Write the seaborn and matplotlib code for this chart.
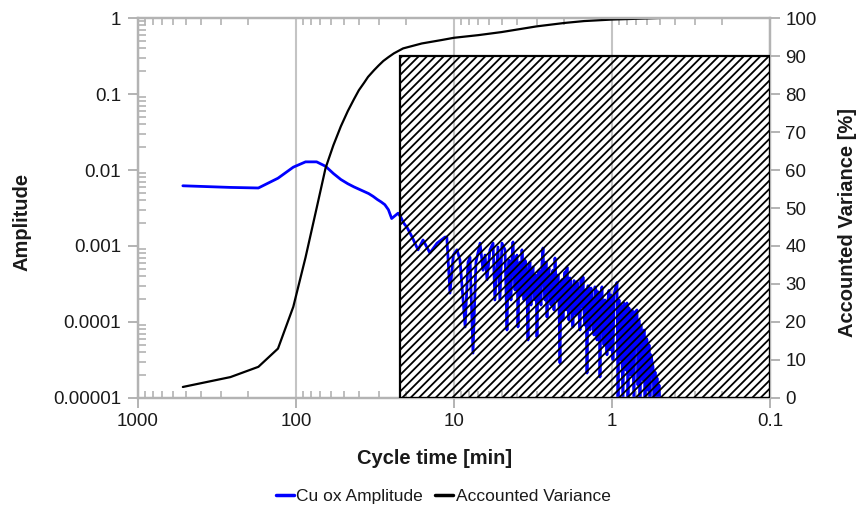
import numpy as np
import pandas as pd
import matplotlib
matplotlib.use('Agg')
import matplotlib.pyplot as plt
import seaborn as sns
from matplotlib.patches import Rectangle
from matplotlib.lines import Line2D
from matplotlib.ticker import LogLocator, NullFormatter

# ---- data ----
# Cu ox amplitude spectrum (cycle time in min, amplitude)
amp_time = [520, 260, 173, 130, 104, 87, 74, 65, 58, 52, 47, 43, 40, 37, 34.7, 32.5,
            30.6, 28.9, 27.4, 26, 24.8, 23.6, 22.6, 21.7, 20.8, 19.8, 18.4, 16.9, 15.7,
            14.2, 12.8, 11.4, 11.1, 10.6, 10.1, 9.57, 9.16, 8.5, 8.15, 7.92, 7.58, 7.26,
            6.84, 6.55, 6.36, 6.18, 5.92, 5.66, 5.51, 5.27, 5.12, 4.97,
            4.755, 4.686, 4.619, 4.552, 4.486, 4.421, 4.357, 4.295, 4.233, 4.171, 4.111,
            4.051, 3.993, 3.935, 3.878, 3.822, 3.767, 3.712, 3.659, 3.606, 3.554, 3.502,
            3.451, 3.401, 3.352, 3.304, 3.256, 3.209, 3.162, 3.116, 3.071, 3.027, 2.983,
            2.940, 2.897, 2.855, 2.814, 2.773, 2.733, 2.694, 2.655, 2.616, 2.578, 2.541,
            2.504, 2.468, 2.433, 2.398, 2.363, 2.329, 2.295, 2.262, 2.229, 2.197, 2.165,
            2.134, 2.105, 2.073, 2.042, 2.013, 1.984, 1.955, 1.927, 1.900, 1.872, 1.845,
            1.818, 1.792, 1.766, 1.740, 1.715, 1.690, 1.665, 1.641, 1.617, 1.594, 1.571,
            1.548, 1.526, 1.504, 1.482, 1.461, 1.439, 1.418, 1.398, 1.378, 1.358, 1.339,
            1.320, 1.300, 1.282, 1.263, 1.244, 1.227, 1.209, 1.191, 1.174, 1.157, 1.140,
            1.124, 1.107, 1.092, 1.076, 1.060, 1.045, 1.030, 1.015, 1.000, 0.986, 0.971,
            0.957, 0.930, 0.916, 0.903, 0.890, 0.877, 0.852, 0.839, 0.815,
            0.804, 0.792, 0.781, 0.758, 0.747, 0.726, 0.715, 0.695, 0.685, 0.675, 0.665,
            0.656, 0.636, 0.627, 0.618, 0.609, 0.600, 0.592, 0.583, 0.575, 0.567, 0.550,
            0.542, 0.534, 0.527, 0.519, 0.512, 0.504, 0.497]
amp_values = [6.2e-3, 5.9e-3, 5.8e-3, 7.8e-3, 1.09e-2, 1.28e-2, 1.28e-2, 1.12e-2, 9.0e-3,
              7.5e-3, 6.6e-3, 6.0e-3, 5.6e-3, 5.2e-3, 4.9e-3, 4.5e-3, 4.1e-3, 3.8e-3,
              3.5e-3, 3.0e-3, 2.3e-3, 2.5e-3, 2.7e-3, 2.4e-3, 2.0e-3, 1.75e-3, 1.31e-3,
              8.9e-4, 1.2e-3, 8.1e-4, 1.09e-3, 1.31e-3, 1.31e-3, 2.4e-4, 7.6e-4, 8.9e-4,
              6.5e-4, 8.6e-5, 6.15e-4, 7.1e-4, 3.9e-5, 6.15e-4, 1.09e-3, 4.8e-4, 7.6e-4,
              3.6e-4, 8.9e-4, 1.09e-3, 1.95e-4, 9.7e-4, 1.95e-4, 1.09e-3,
              8.9e-4, 2.5e-4, 7.85e-5, 4.0e-4, 6.5e-4, 3.0e-4, 1.95e-4, 7.0e-4, 1.13e-3,
              5.0e-4, 2.64e-4, 6.0e-4, 7.6e-4, 8.6e-5, 5.0e-4, 6.15e-4, 2.27e-4, 8.9e-4,
              4.0e-4, 1.95e-4, 6.5e-4, 5.6e-4, 2.5e-4, 5.8e-5, 5.5e-4, 6.15e-4, 1.67e-4,
              4.5e-4, 5.3e-4, 2.5e-4, 1.95e-4, 4.15e-4, 6.35e-5, 3.8e-4, 4.8e-4, 2.2e-4,
              1.67e-4, 6.0e-4, 9.4e-4, 3.5e-4, 1.95e-4, 6.15e-4, 1.16e-4, 4.2e-4, 5.1e-4,
              2.4e-4, 1.67e-4, 4.0e-4, 4.8e-4, 1.44e-4, 6.95e-4, 3.0e-4, 1.95e-4, 4.15e-4,
              1.8e-4, 2.9e-5, 3.0e-4, 3.6e-4, 1.06e-4, 3.3e-4, 4.55e-4, 1.44e-4, 5.3e-4,
              2.0e-4, 1.06e-4, 3.8e-4, 3.1e-4, 1.5e-4, 8.6e-5, 3.5e-4, 3.3e-4, 1.24e-4,
              3.4e-4, 2.64e-4, 1.3e-4, 7.85e-5, 3.6e-4, 1.6e-4, 3.9e-4, 1.4e-4, 9.1e-5,
              2.64e-4, 2.13e-5, 3.0e-4, 2.27e-4, 7.85e-5, 2.8e-4, 1.95e-4, 1.1e-4, 6.75e-5,
              2.9e-4, 2.64e-4, 5.8e-5, 2.5e-4, 2.27e-4, 1.89e-5, 1.95e-4, 2.9e-4, 9.0e-5,
              5.0e-5, 1.95e-4, 1.0e-4, 3.7e-5, 1.95e-4, 2.6e-4, 4.3e-5, 2.27e-4, 1.2e-4,
              3.2e-5, 2.3e-4, 2.64e-4, 3.3e-4, 8e-6, 1.95e-4, 3.2e-5, 1.67e-4, 8e-6,
              1.78e-4, 2.33e-5, 1.78e-4, 8e-6, 1.53e-4, 2.0e-5, 1.44e-4, 8e-6, 1.35e-4,
              1.44e-4, 1.48e-5, 1.06e-4, 8e-6, 9.1e-5, 1.73e-5, 7.85e-5, 8e-6, 6.15e-5,
              5.8e-5, 1.27e-5, 5.0e-5, 8e-6, 3.7e-5, 2.56e-5, 8e-6, 2.2e-5, 8e-6, 1.83e-5,
              8e-6, 1.48e-5, 8e-6]

# cumulative accounted variance in %
var_time = [520, 260, 173, 130, 104, 87, 74, 65, 58, 52, 47, 43, 40, 37, 35, 32, 30, 28,
            26, 24, 21, 16, 12, 10, 7, 5, 3, 2, 1.5, 1, 0.7, 0.5]
var_values = [2.9, 5.5, 8.2, 13, 24, 37, 50, 60.5, 66.5, 71.5, 75.5, 78.6, 81, 83, 84.5,
              86.3, 87.5, 88.7, 89.7, 90.7, 92.0, 93.3, 94.2, 94.8, 95.5, 96.3, 97.8,
              98.7, 99.2, 99.6, 99.8, 100]

# hatched window (cycle time range, upper bound in %)
window_start = 22
window_end = 0.1
window_top = 90

x_ticks = [1000, 100, 10, 1, 0.1]
x_tick_labels = ['1000', '100', '10', '1', '0.1']
y_ticks = [1, 0.1, 0.01, 0.001, 0.0001, 0.00001]
y_tick_labels = ['1', '0.1', '0.01', '0.001', '0.0001', '0.00001']
y2_ticks = list(range(0, 101, 10))

# ---- style ----
sns.set_style('white')
plt.rcParams['font.family'] = ['Liberation Sans', 'DejaVu Sans']
plt.rcParams['hatch.linewidth'] = 1.3
grey = '#b3b3b3'
txt = '#1a1a1a'

fig = plt.figure(figsize=(8.64, 5.09), dpi=100)
ax = fig.add_axes([0.1597, 0.2181, 0.7315, 0.7465])
ax.set_xscale('log')
ax.set_yscale('log')
ax2 = ax.twinx()

amp_df = pd.DataFrame({'time': amp_time, 'amp': amp_values})
var_df = pd.DataFrame({'time': var_time, 'var': var_values})

sns.lineplot(data=amp_df, x='time', y='amp', ax=ax, color='#0000ff', lw=2.0,
             estimator=None, sort=False)
sns.lineplot(data=var_df, x='time', y='var', ax=ax2, color='black', lw=1.6,
             estimator=None, sort=False)

ax2.add_patch(Rectangle((window_start, 0), window_end - window_start, window_top,
                        facecolor='none', edgecolor='black', hatch='////', lw=1.6, zorder=5))

ax.set_xlim(1000, 0.1)
ax.set_ylim(1e-5, 1)
ax2.set_ylim(0, 100)

ax.set_xticks(x_ticks, x_tick_labels)
ax.set_yticks(y_ticks, y_tick_labels)
ax2.set_yticks(y2_ticks)
ax.xaxis.set_minor_locator(LogLocator(base=10, subs=np.arange(2, 10), numticks=20))
ax.yaxis.set_minor_locator(LogLocator(base=10, subs=np.arange(2, 10), numticks=20))
ax.xaxis.set_minor_formatter(NullFormatter())
ax.yaxis.set_minor_formatter(NullFormatter())

ax.xaxis.grid(True, which='major', color='#c4c4c4', lw=1.5)
ax.yaxis.grid(False)
ax.set_axisbelow(True)

for a in (ax, ax2):
    for s in a.spines.values():
        s.set_color(grey)
        s.set_linewidth(1.6)

ax.tick_params(axis='x', which='major', direction='out', length=7, width=1.4, color=grey,
               bottom=True, top=False, labelsize=13.5, labelcolor=txt, pad=4)
ax.tick_params(axis='x', which='minor', direction='in', length=5, width=1.2, color=grey,
               bottom=True, top=True)
ax.tick_params(axis='y', which='major', direction='out', length=7, width=1.4, color=grey,
               left=True, right=False, labelsize=13.5, labelcolor=txt, pad=5)
ax.tick_params(axis='y', which='minor', direction='in', length=6, width=1.2, color=grey,
               left=True, right=False)
ax2.tick_params(axis='y', which='major', direction='out', length=7, width=1.4, color=grey,
                right=True, labelsize=13.5, labelcolor=txt, pad=4)

ax.set_xlabel('Cycle time [min]', fontsize=14.5, fontweight='bold', color=txt)
ax.xaxis.set_label_coords(0.47, -0.135)
ax.set_ylabel('Amplitude', fontsize=14.5, fontweight='bold', color=txt)
ax.yaxis.set_label_coords(-0.168, 0.463)
ax2.set_ylabel('Accounted Variance [%]', fontsize=14.5, fontweight='bold', color=txt)
ax2.yaxis.set_label_coords(1.108, 0.463)

handles = [Line2D([], [], color='#0000ff', lw=2.5), Line2D([], [], color='black', lw=2.5)]
fig.legend(handles, ['Cu ox Amplitude', 'Accounted Variance'], loc='center',
           bbox_to_anchor=(0.513, 0.024), ncol=2, frameon=False, fontsize=12.5,
           handlelength=1.05, handletextpad=0.15, columnspacing=0.7, labelcolor=txt)

fig.savefig('out.png', dpi=100)
